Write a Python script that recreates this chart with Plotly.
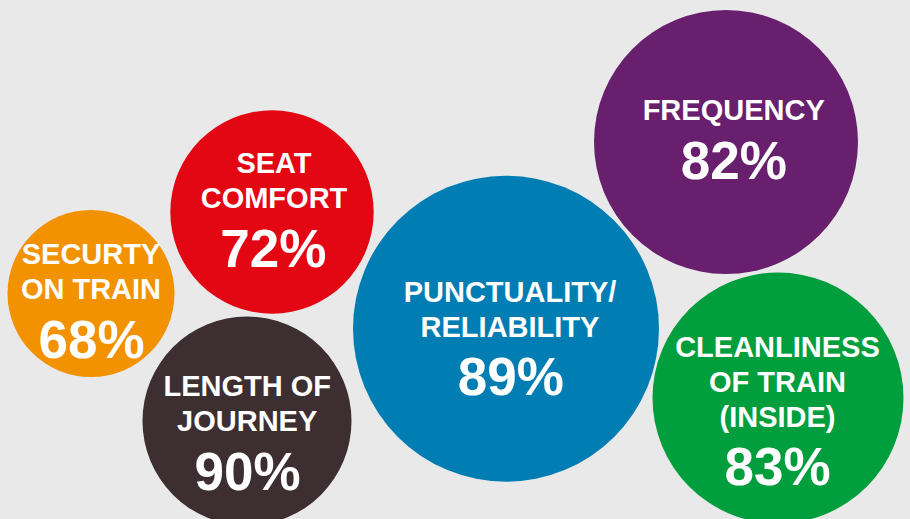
import plotly.graph_objects as go

# ---- data ----
categories = ["SECURTY<br>ON TRAIN", "SEAT<br>COMFORT", "LENGTH OF<br>JOURNEY",
              "PUNCTUALITY/<br>RELIABILITY", "FREQUENCY", "CLEANLINESS<br>OF TRAIN<br>(INSIDE)"]
values = [68, 72, 90, 89, 82, 83]
colors = ["#F39200", "#E30613", "#3D2E32", "#007DB3", "#68206E", "#009E3D"]

# ---- layout of the bubbles (pixel space) ----
cx = [91, 272, 247, 506, 726, 778]
cy = [293.5, 212, 421, 328.7, 142, 398]
radius = [83.5, 101.7, 104.5, 153, 132, 125.5]

label_x = [91, 274, 247.2, 510, 733.7, 777.5]
label_baseline = [264.3, 173.3, 396, 301.7, 120, 356.7]   # baseline of first label line
pct_x = [91.5, 273.3, 247.5, 510.8, 733.8, 777.5]
pct_baseline = [358.3, 266.7, 490, 395, 179, 485]

LABEL_SIZE = 29
PCT_SIZE = 53
LINE_GAP = 35

W, H = 910, 519
FONT = "Liberation Sans, Arial, Helvetica, sans-serif"

fig = go.Figure()
fig.add_trace(go.Scatter(
    x=cx, y=cy, mode="markers",
    marker=dict(size=[2 * r for r in radius], color=colors, opacity=1,
                line=dict(width=0)),
    hoverinfo="skip", showlegend=False,
))

# label lines, one text point per line for exact line spacing
lx, ly, lt = [], [], []
for cat, x0, b0 in zip(categories, label_x, label_baseline):
    for i, line in enumerate(cat.split("<br>")):
        lx.append(x0)
        ly.append(b0 + i * LINE_GAP - 0.25 * LABEL_SIZE)
        lt.append(line)
fig.add_trace(go.Scatter(
    x=lx, y=ly, mode="text", text=lt,
    textposition="middle center",
    textfont=dict(family=FONT, size=LABEL_SIZE, color="white", weight="bold"),
    hoverinfo="skip", showlegend=False,
))
fig.add_trace(go.Scatter(
    x=pct_x, y=[b - 0.25 * PCT_SIZE for b in pct_baseline], mode="text",
    text=[f"{v}%" for v in values],
    textposition="middle center",
    textfont=dict(family=FONT, size=PCT_SIZE, color="white", weight="bold"),
    hoverinfo="skip", showlegend=False,
))

fig.update_layout(
    width=W, height=H, autosize=False,
    margin=dict(l=0, r=0, t=0, b=0, pad=0),
    paper_bgcolor="#E9E9E9", plot_bgcolor="#E9E9E9",
    xaxis=dict(range=[0, W], visible=False, fixedrange=True),
    yaxis=dict(range=[H, 0], visible=False, fixedrange=True),
    hovermode=False,
)
fig.write_html("out.html", config={"displayModeBar": False, "staticPlot": True})
